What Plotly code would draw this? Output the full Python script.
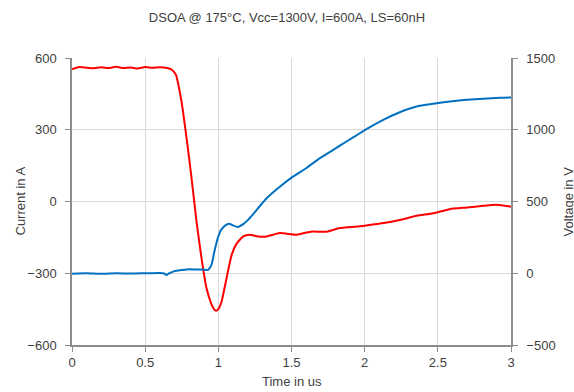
import plotly.graph_objects as go

# Current (A) on left axis
t_current = [0.0, 0.05, 0.1, 0.15, 0.2, 0.25, 0.3, 0.35, 0.4, 0.45, 0.5, 0.55, 0.6, 0.65, 0.68,
             0.71, 0.748, 0.783, 0.817, 0.851, 0.885, 0.919, 0.95, 0.97, 0.985, 1.0, 1.022, 1.056, 1.091,
             1.125, 1.17, 1.215, 1.272, 1.33, 1.42, 1.535, 1.63, 1.74, 1.83, 1.945, 2.01, 2.13,
             2.24, 2.356, 2.47, 2.58, 2.7, 2.81, 2.9, 3.0]
current = [553, 562, 559, 557, 561, 558, 563, 558, 560, 556, 562, 559, 561, 558, 552,
           530, 419, 265, 98, -84, -237, -362, -425, -450, -457, -450, -419, -321, -223,
           -176, -146, -139, -146, -146, -132, -139, -126, -126, -111, -105, -100, -90,
           -77, -60, -49, -32, -25, -18, -14, -22]

# Voltage (V) on right axis
t_voltage = [0.0, 0.1, 0.2, 0.3, 0.4, 0.5, 0.6, 0.63, 0.645, 0.66, 0.70, 0.75, 0.8, 0.85, 0.9, 0.93,
             0.953, 0.973, 0.996, 1.019, 1.053, 1.08, 1.10, 1.135, 1.17, 1.203, 1.238, 1.272,
             1.33, 1.42, 1.51, 1.60, 1.694, 1.785, 1.876, 1.962, 2.012, 2.127, 2.24, 2.355,
             2.469, 2.583, 2.697, 2.81, 2.925, 3.0]
voltage = [-3, 0, -4, 0, -2, 0, 2, -2, -12, -3, 15, 22, 28, 26, 25, 24,
           58, 151, 244, 302, 337, 344, 334, 323, 342, 372, 412, 454,
           523, 603, 673, 732, 802, 860, 918, 972, 1004, 1069, 1122, 1162,
           1181, 1197, 1209, 1216, 1223, 1225]

title_text = "DSOA @ 175°C, Vcc=1300V, I=600A, LS=60nH"
x_title = "Time in us"
y_title = "Current in A"
y2_title = "Voltage in V"

FONT = "Liberation Sans, Arial, sans-serif"
AXIS_COLOR = "#8c8c8c"
GRID_COLOR = "#d9d9d9"
TICK_FONT = dict(family=FONT, size=13, color="#404040")

fig = go.Figure()
fig.add_trace(go.Scatter(x=t_current, y=current, mode="lines",
                         line=dict(color="#ff0000", width=2, shape="spline", smoothing=0.5),
                         yaxis="y", name="Current"))
fig.add_trace(go.Scatter(x=t_voltage, y=voltage, mode="lines",
                         line=dict(color="#0070c0", width=2, shape="spline", smoothing=0.5),
                         yaxis="y2", name="Voltage"))

fig.update_layout(
    width=574, height=392,
    margin=dict(l=72, r=63, t=58, b=47),
    paper_bgcolor="white", plot_bgcolor="white",
    showlegend=False,
    title=dict(text=title_text, x=0.5, xanchor="center", y=1 - 17 / 392, yanchor="middle",
               font=dict(family=FONT, size=13, color="#404040")),
    xaxis=dict(range=[0, 3], dtick=0.5, tick0=0, showgrid=True, gridcolor=GRID_COLOR, gridwidth=1,
               showline=True, linecolor=AXIS_COLOR, linewidth=1.5, ticks="outside", ticklen=5,
               tickcolor=AXIS_COLOR, tickfont=TICK_FONT, zeroline=False),
    yaxis=dict(range=[-600, 600], dtick=300, tick0=0, showgrid=True, gridcolor=GRID_COLOR, gridwidth=1,
               showline=True, linecolor=AXIS_COLOR, linewidth=1.5, ticks="outside", ticklen=5,
               tickcolor=AXIS_COLOR, tickfont=TICK_FONT, zeroline=False, ticklabelstandoff=6),
    yaxis2=dict(range=[-500, 1500], dtick=500, tick0=0, overlaying="y", side="right", showgrid=False,
                showline=True, linecolor=AXIS_COLOR, linewidth=1.5, ticks="outside", ticklen=5,
                tickcolor=AXIS_COLOR, tickfont=TICK_FONT, zeroline=False, ticklabelstandoff=6),
)

fig.add_annotation(text=y_title, xref="paper", yref="paper", x=-(72 - 20) / 439, y=0.5,
                   textangle=-90, showarrow=False, xanchor="center", yanchor="middle",
                   font=dict(family=FONT, size=13, color="#404040"))
fig.add_annotation(text=y2_title, xref="paper", yref="paper", x=1 + (568 - 511) / 439, y=0.5,
                   textangle=-90, showarrow=False, xanchor="center", yanchor="middle",
                   font=dict(family=FONT, size=13, color="#404040"))
fig.add_annotation(text=x_title, xref="paper", yref="paper", x=0.5, y=-(381 - 345) / 287,
                   showarrow=False, xanchor="center", yanchor="middle",
                   font=dict(family=FONT, size=13, color="#404040"))

fig.write_html("out.html")
